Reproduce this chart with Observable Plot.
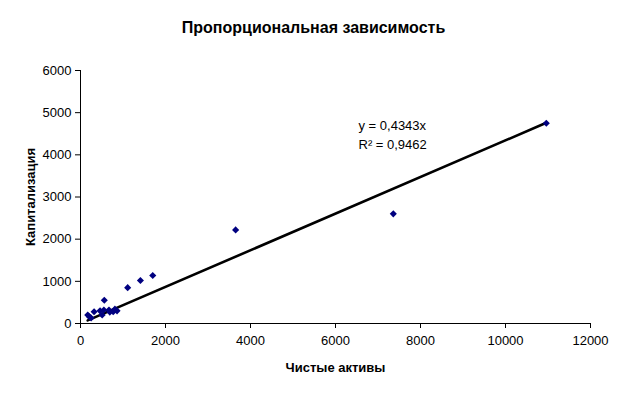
<!DOCTYPE html>
<html>
<head>
<meta charset="utf-8">
<script src="https://cdn.jsdelivr.net/npm/d3@7"></script>
<script src="https://cdn.jsdelivr.net/npm/@observablehq/plot@0.6"></script>
<style>
  html, body { margin: 0; padding: 0; background: #fff; }
  svg { font-family: "Liberation Sans", Arial, sans-serif; }
</style>
</head>
<body>
<div id="chart"></div>
<script>
const title = "Пропорциональная зависимость";
const xLabel = "Чистые активы";
const yLabel = "Капитализация";
const equationLines = ["y = 0,4343x", "R² = 0,9462"];
const slope = 0.4343;

// Чистые активы (x) and Капитализация (y)
const assets = [170, 250, 210, 320, 460, 510, 550, 560, 670, 690, 770, 810, 860, 1110, 1410, 1700, 3650, 7360, 10960];
const capitalization = [200, 130, 160, 280, 300, 200, 320, 550, 320, 270, 280, 340, 300, 850, 1020, 1140, 2220, 2600, 4750];

const xTicks = [0, 2000, 4000, 6000, 8000, 10000, 12000];
const yTicks = [0, 1000, 2000, 3000, 4000, 5000, 6000];

const points = assets.map((a, i) => ({x: a, y: capitalization[i]}));
const [xMin, xMax] = d3.extent(assets);
const trend = [xMin, xMax].map(x => ({x, y: slope * x}));

const chart = Plot.plot({
  width: 624,
  height: 393,
  marginLeft: 80,
  marginRight: 34,
  marginTop: 70,
  marginBottom: 70,
  style: {background: "#fff", color: "#000", fontFamily: "'Liberation Sans', Arial, sans-serif"},
  x: {domain: [0, 12000]},
  y: {domain: [0, 6000]},
  marks: [
    Plot.axisX({ticks: xTicks, tickSize: 5, tickPadding: 7, fontSize: 13, label: null, tickFormat: d => String(d)}),
    Plot.axisY({ticks: yTicks, tickSize: 5, tickPadding: 4, fontSize: 13, label: null, tickFormat: d => String(d)}),
    Plot.ruleX([0], {stroke: "#000"}),
    Plot.ruleY([0], {stroke: "#000"}),
    Plot.line(trend, {x: "x", y: "y", stroke: "#000", strokeWidth: 2.6}),
    Plot.dot(points, {x: "x", y: "y", symbol: "diamond2", r: 3.2, fill: "#000080", stroke: "none"}),
    Plot.text([title], {frameAnchor: "top", dx: -22, dy: -43, fontSize: 16, fontWeight: "bold", fill: "#000", lineAnchor: "middle"}),
    Plot.text([xLabel], {frameAnchor: "bottom", dy: 44, fontSize: 13, fontWeight: "bold", fill: "#000", lineAnchor: "middle"}),
    Plot.text([yLabel], {frameAnchor: "left", dx: -50, rotate: -90, textAnchor: "middle", fontSize: 13, fontWeight: "bold", fill: "#000", lineAnchor: "middle"}),
    Plot.text([equationLines.join("\n")], {frameAnchor: "top-left", dx: 278, dy: 46, textAnchor: "start", lineAnchor: "top", lineHeight: 1.45, fontSize: 13, fill: "#000"})
  ]
});
document.getElementById("chart").appendChild(chart);
</script>
</body>
</html>
